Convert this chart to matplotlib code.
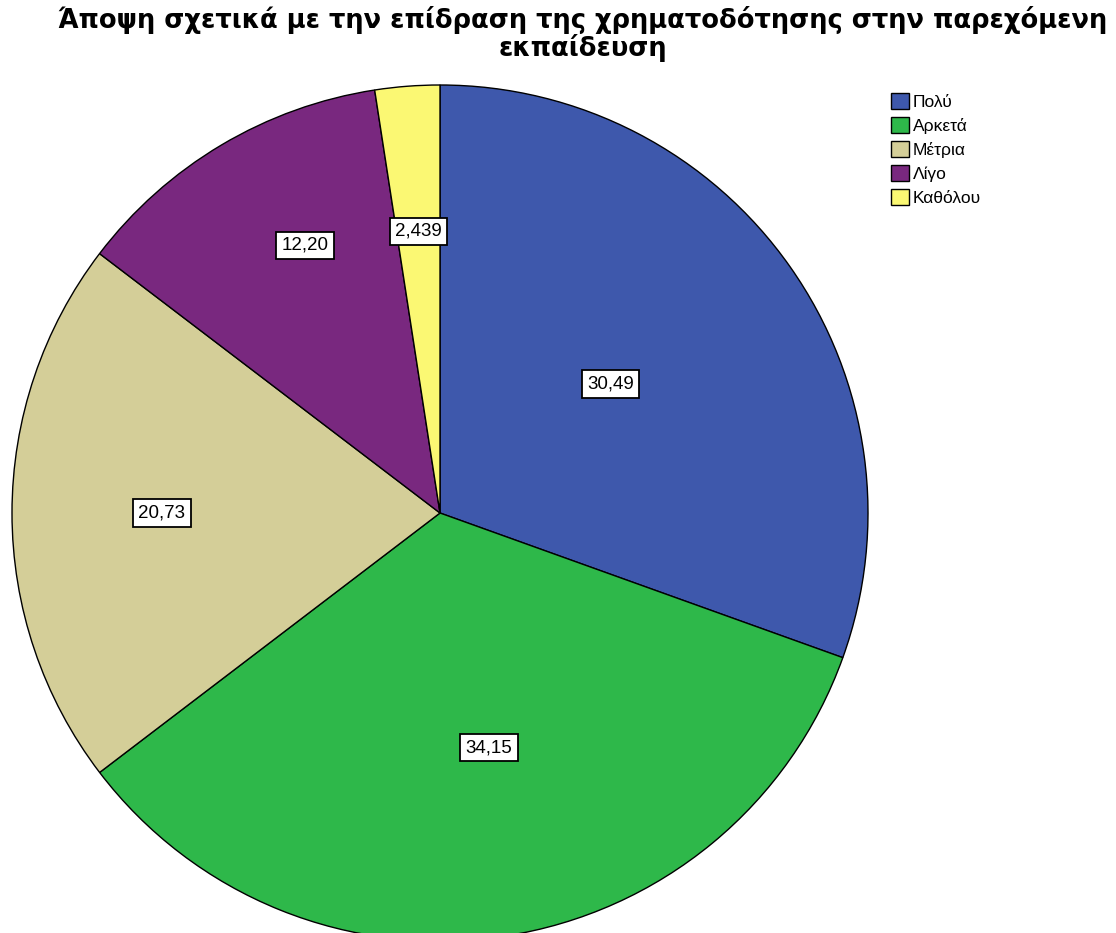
import matplotlib.pyplot as plt
import numpy as np

categories = ['Πολύ', 'Αρκετά', 'Μέτρια', 'Λίγο', 'Καθόλου']
values = [30.49, 34.15, 20.73, 12.20, 2.439]
value_labels = ['30,49', '34,15', '20,73', '12,20', '2,439']
colors = ['#3E58AC', '#2EB84A', '#D4CE98', '#79287F', '#FBF873']
title = 'Άποψη σχετικά με την επίδραση της χρηματοδότησης στην παρεχόμενη\nεκπαίδευση'

# where the value boxes sit, as fraction of radius
label_r = [0.50, 0.56, 0.65, 0.70, 0.66]
label_shift = [2, 3, 0, -4, 0]  # degrees

plt.rcParams['font.family'] = ['Liberation Sans', 'DejaVu Sans']

W, H = 1116, 933
fig = plt.figure(figsize=(W / 100, H / 100), dpi=100)

cx, cy, R = 440, 513, 428
ax = fig.add_axes([(cx - R) / W, (H - cy - R) / H, 2 * R / W, 2 * R / H])
wedges, _ = ax.pie(values, colors=colors, startangle=90, counterclock=False,
                   radius=1, wedgeprops=dict(edgecolor='black', linewidth=1))
ax.set_xlim(-1, 1)
ax.set_ylim(-1, 1)
ax.set_aspect('equal')
ax.axis('off')

for w, lab, r, sh in zip(wedges, value_labels, label_r, label_shift):
    ang = np.deg2rad((w.theta1 + w.theta2) / 2 + sh)
    ax.text(r * np.cos(ang), r * np.sin(ang), lab, ha='center', va='center',
            fontsize=13.5,
            bbox=dict(boxstyle='square,pad=0.28', facecolor='white',
                      edgecolor='black', linewidth=1.3))

fig.text(583 / W, 1 - 6 / H, title, ha='center', va='top', fontsize=18.5,
         fontweight='bold', family='DejaVu Sans', linespacing=0.98)

fig.legend(wedges, categories, loc='upper left',
           bbox_to_anchor=(884 / W, 1 - 86 / H), frameon=False,
           fontsize=12.5, handlelength=1.05, handleheight=1.05,
           handletextpad=0.2, labelspacing=0.4, borderaxespad=0)

fig.savefig('out.png', dpi=100)
